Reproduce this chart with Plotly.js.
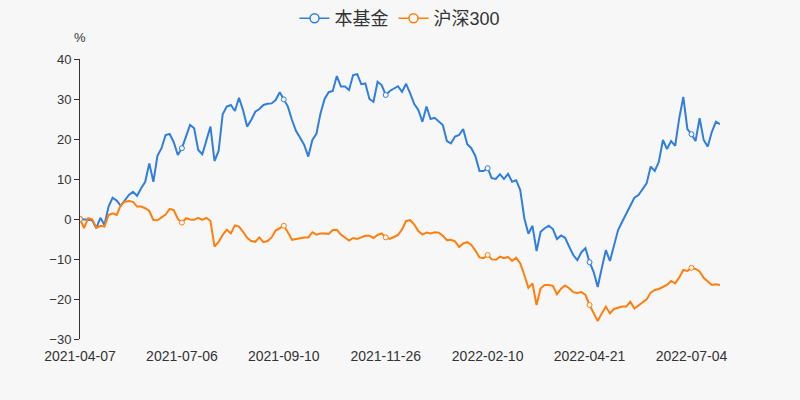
<!DOCTYPE html>
<html>
<head>
<meta charset="utf-8">
<script src="https://cdn.plot.ly/plotly-3.0.1.min.js"></script>
<style>
  body { margin: 0; background: #f7f7f7; }
  #myViz { width: 800px; height: 400px; }
</style>
</head>
<body>
<div id="myViz"></div>
<script>
// values read every 2nd trading day (index step 2), in %
var step = 2;

var fundValues = [
    0, -0.1, -0.1, -0.3, -2.3, 0.3, -1.5, 3.1, 5.3, 4.6,
    3.3, 4.75, 6, 6.8, 5.8, 7.7, 9.3, 13.9, 9.3, 15.8,
    17.7, 21, 21.25, 19.2, 16, 17.7, 20.4, 23.5, 22.7, 17.25,
    16.2, 19.75, 23.1, 14.5, 17, 26.2, 28.1, 28.5, 27, 30.3,
    27.2, 23.1, 24.75, 26.8, 27.5, 28.5, 28.8, 28.9, 29.75, 31.7,
    29.9, 28.1, 24.75, 22, 20.3, 18.5, 15.6, 19.75, 21.3, 26.4,
    30, 31.7, 32, 35.75, 33.1, 33.1, 32.25, 36, 36.2, 33.7,
    33.9, 30, 29.3, 34.3, 33.5, 31, 32, 32.7, 33.2, 31.8,
    33.8, 31.4, 28.75, 27.25, 24.3, 28.1, 25, 25.3, 24.3, 23.5,
    19.5, 18.9, 20.6, 21, 22.5, 18.7, 17.7, 15.7, 12, 12,
    12.7, 10.2, 10, 11.2, 10, 11.3, 9.3, 9.7, 7.25, 0.2,
    -3.7, -1.7, -8, -3.2, -2.3, -1.7, -2.5, -5, -4.1, -4.7,
    -6.9, -9, -10.3, -8.3, -7.3, -10.8, -13.2, -17, -12.3, -7.8,
    -10.5, -6.9, -2.75, -0.7, 1.4, 3.5, 5.3, 6, 7.4, 8.9,
    13.1, 12, 14.3, 19.75, 17.5, 19.5, 18.3, 25.2, 30.5, 22.5,
    21.2, 19.5, 25.2, 19.75, 18.1, 21.8, 24.3, 23.7
];

var hs300Values = [
    0, -2.3, 0.2, -0.1, -2.2, -1.7, -1.9, 1, 1.4, 1,
    3.5, 4.3, 4.5, 4.3, 3.1, 3.1, 2.7, 2, -0.25, -0.3,
    0.4, 1.1, 2.5, 2.25, 0, -0.9, 0.2, -0.1, -0.2, 0.3,
    -0.2, 0.3, -0.5, -6.9, -5.7, -4, -2.7, -3.6, -1.6, -1.9,
    -3.2, -4.7, -5.5, -5.7, -4.6, -5.8, -5.5, -4.6, -2.9, -2.25,
    -1.7, -3.3, -5.2, -5, -4.75, -4.6, -4.6, -3.3, -3.9, -3.6,
    -3.6, -3.75, -2.75, -2.7, -3.9, -4.6, -5.4, -4.75, -5, -4.6,
    -4.2, -4.2, -4.75, -4, -3.6, -4.6, -5, -4.5, -4, -2.6,
    -0.5, -0.3, -1.4, -3, -3.9, -3.4, -3.6, -3.3, -3.4, -4.2,
    -5.3, -5.2, -5.6, -7, -6.1, -5.8, -6.5, -7.9, -9.6, -9.8,
    -9, -10.1, -10.2, -9.4, -9.8, -9.5, -10.5, -9.7, -11.1, -14,
    -17.2, -16.1, -21.5, -17.3, -16.5, -16.5, -16.7, -18.8, -17.4, -16.6,
    -17.3, -18.3, -18.5, -18.25, -19, -21.5, -23.6, -25.5, -23.6, -21.9,
    -23.6, -22.5, -22.2, -21.9, -21.9, -20.7, -22.4, -21.7, -20.8, -20.1,
    -18.4, -17.75, -17.5, -16.9, -16.5, -15.5, -16.1, -14.6, -12.75, -13,
    -12.2, -12.5, -13.1, -14.7, -15.6, -16.5, -16.3, -16.5
];

var tickIdx = [0, 50, 100, 150, 200, 250, 300];
var tickLabels = ['2021-04-07', '2021-07-06', '2021-09-10', '2021-11-26',
                  '2022-02-10', '2022-04-21', '2022-07-04'];

var blue = '#2f7fe0';
var orange = '#ff7f0e';
var bg = '#f7f7f7';
var font = 'Liberation Sans, Noto Sans CJK SC, sans-serif';

var xs = fundValues.map(function (v, i) { return i * step; });
var lastIdx = xs[xs.length - 1];

function atTicks(vals) {
    return tickIdx.map(function (t) { return vals[t / step]; });
}

var fundLine = {
    x: xs, y: fundValues, type: 'scatter', mode: 'lines',
    line: {color: blue, width: 2}, showlegend: false, hoverinfo: 'skip'
};
var hsLine = {
    x: xs, y: hs300Values, type: 'scatter', mode: 'lines',
    line: {color: orange, width: 2}, showlegend: false, hoverinfo: 'skip'
};
var fundDots = {
    x: tickIdx, y: atTicks(fundValues), type: 'scatter', mode: 'markers',
    marker: {size: 5, color: bg, line: {color: blue, width: 1}},
    showlegend: false, hoverinfo: 'skip'
};
var hsDots = {
    x: tickIdx, y: atTicks(hs300Values), type: 'scatter', mode: 'markers',
    marker: {size: 5, color: bg, line: {color: orange, width: 1}},
    showlegend: false, hoverinfo: 'skip'
};
// legend-only entries
var fundKey = {
    x: [null], y: [null], type: 'scatter', mode: 'lines+markers', name: '本基金',
    line: {color: blue, width: 1.5},
    marker: {size: 9, color: bg, line: {color: blue, width: 1.5}}
};
var hsKey = {
    x: [null], y: [null], type: 'scatter', mode: 'lines+markers', name: '沪深300',
    line: {color: orange, width: 1.5},
    marker: {size: 9, color: bg, line: {color: orange, width: 1.5}}
};

var data = [fundLine, hsLine, fundDots, hsDots, fundKey, hsKey];

var layout = {
    width: 800, height: 400,
    paper_bgcolor: bg, plot_bgcolor: bg,
    margin: {l: 80, r: 80, t: 59, b: 61},
    font: {family: font, color: '#333'},
    showlegend: true,
    legend: {
        orientation: 'h', x: 0.5, xanchor: 'center',
        yref: 'container', y: 1, yanchor: 'top',
        font: {size: 18, color: '#333'}, bgcolor: 'rgba(0,0,0,0)'
    },
    xaxis: {
        range: [0, lastIdx], showgrid: false, zeroline: false, showline: false,
        tickmode: 'array', tickvals: tickIdx, ticktext: tickLabels,
        ticks: 'outside', ticklen: 4, tickcolor: 'rgba(0,0,0,0)',
        tickfont: {size: 14, color: '#333'}
    },
    xaxis2: {
        overlaying: 'x', anchor: 'free', position: 120 / 280,
        range: [0, lastIdx], showgrid: false, zeroline: false,
        showline: true, linecolor: '#333', linewidth: 1,
        tickmode: 'array', tickvals: tickIdx.concat([lastIdx]),
        ticks: 'outside', ticklen: 5, tickcolor: '#333', showticklabels: false
    },
    yaxis: {
        range: [-30, 40], dtick: 10, showgrid: false, zeroline: false,
        showline: true, linecolor: '#333', linewidth: 1,
        ticks: 'outside', ticklen: 5, tickcolor: '#333',
        tickfont: {size: 13, color: '#333'}
    },
    annotations: [{
        text: '%', xref: 'paper', yref: 'paper', x: 0, y: 1,
        xanchor: 'center', yanchor: 'bottom', yshift: 12, showarrow: false,
        font: {size: 13, color: '#333'}
    }]
};

Plotly.newPlot('myViz', data, layout, {staticPlot: true, displayModeBar: false});
</script>
</body>
</html>
